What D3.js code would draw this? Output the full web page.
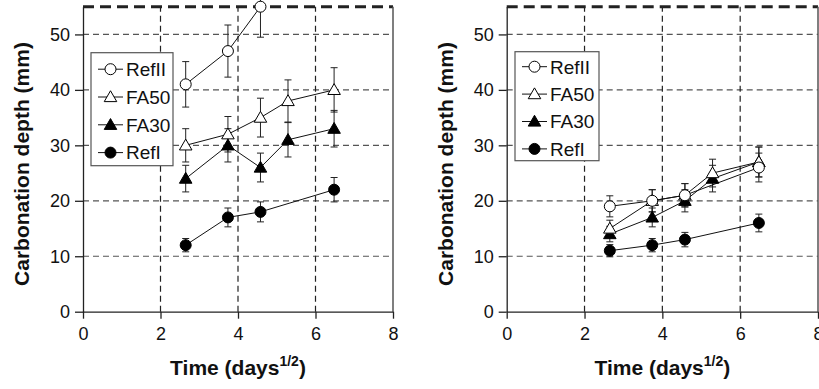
<!DOCTYPE html>
<html>
<head>
<meta charset="utf-8">
<script src="https://cdn.jsdelivr.net/npm/d3@7"></script>
<style>
  body { margin: 0; background: #fff; }
  text { font-family: "Liberation Sans", Arial, sans-serif; fill: #111; }
</style>
</head>
<body>
<script>
var w = 819;
var h = 389;

// time in sqrt(days): 7, 14, 21, 28, 42 days
var times = [2.65, 3.74, 4.58, 5.29, 6.48];
var seriesNames = ["RefII", "FA50", "FA30", "RefI"];
var xTicks = [0, 2, 4, 6, 8];
var yTicks = [0, 10, 20, 30, 40, 50];

// left panel values (null = no measurement)
var leftRefII = [41, 47, 55, null, null];
var leftFA50 = [30, 32, 35, 38, 40];
var leftFA30 = [24, 30, 26, 31, 33];
var leftRefI = [12, 17, 18, null, 22];

// right panel values
var rightRefII = [19, 20, 21, null, 26];
var rightFA50 = [15, 20, 21, 25, 27];
var rightFA30 = [14, 17, 20, 24, 27];
var rightRefI = [11, 12, 13, null, 16];

// error bars are ~10% of the value
var errFrac = 0.1;

var svg = d3.select("body").append("svg")
            .attr("width", w)
            .attr("height", h);

function markerStyle(name) {
    if (name == "RefII") return {shape: "circle", fill: "#fff"};
    if (name == "FA50") return {shape: "triangle", fill: "#fff"};
    if (name == "FA30") return {shape: "triangle", fill: "#000"};
    return {shape: "circle", fill: "#000"};
}

function drawMarker(g, name, cx, cy) {
    var st = markerStyle(name);
    if (st.shape == "circle") {
        g.append("circle")
         .attr("cx", cx).attr("cy", cy).attr("r", 5.5)
         .attr("fill", st.fill).attr("stroke", "#000").attr("stroke-width", 1);
    } else {
        g.append("path")
         .attr("d", d3.symbol().type(d3.symbolTriangle).size(68)())
         .attr("transform", "translate(" + cx + "," + (cy + 1) + ")")
         .attr("fill", st.fill).attr("stroke", "#000").attr("stroke-width", 1);
    }
}

function drawPanel(x0, x1, series, leg) {
    var x = d3.scaleLinear().domain([0, 8]).range([x0, x1]);
    var y = d3.scaleLinear().domain([0, 55]).range([311.7, 6.7]);
    var g = svg.append("g");

    // grid lines
    g.selectAll(".hgrid")
     .data(yTicks.filter(function(d){ return d > 0; }))
     .enter().append("line")
     .attr("x1", x0).attr("x2", x1)
     .attr("y1", function(d){ return y(d); })
     .attr("y2", function(d){ return y(d); })
     .attr("stroke", "#555").attr("stroke-width", 1.2)
     .attr("stroke-dasharray", "6,4");

    g.selectAll(".vgrid")
     .data([2, 4, 6])
     .enter().append("line")
     .attr("x1", function(d){ return x(d); })
     .attr("x2", function(d){ return x(d); })
     .attr("y1", y(0)).attr("y2", y(55))
     .attr("stroke", "#222").attr("stroke-width", 1.2)
     .attr("stroke-dasharray", "6,4");

    // top dashed border and right frame
    g.append("line")
     .attr("x1", x0).attr("x2", x1)
     .attr("y1", y(55)).attr("y2", y(55))
     .attr("stroke", "#222").attr("stroke-width", 3)
     .attr("stroke-dasharray", "11,6");
    g.append("line")
     .attr("x1", x1).attr("x2", x1)
     .attr("y1", y(0)).attr("y2", y(55))
     .attr("stroke", "#555").attr("stroke-width", 1.5);

    // axes
    var xAxis = d3.axisBottom(x).tickValues(xTicks).tickSizeInner(7).tickSizeOuter(0).tickPadding(9);
    var yAxis = d3.axisLeft(y).tickValues(yTicks).tickSizeInner(8).tickSizeOuter(0).tickPadding(5);

    var gx = g.append("g").attr("transform", "translate(0," + y(0) + ")").call(xAxis);
    var gy = g.append("g").attr("transform", "translate(" + x0 + ",0)").call(yAxis);
    [gx, gy].forEach(function(a) {
        a.selectAll("text").attr("font-size", "18px").attr("fill", "#111")
         .attr("font-family", "Liberation Sans, Arial, sans-serif");
        a.selectAll("line, path").attr("stroke", "#222").attr("stroke-width", 1.3);
    });

    // axis titles
    g.append("text")
     .attr("transform", "translate(" + (x0 - 54) + "," + 164 + ") rotate(-90)")
     .attr("text-anchor", "middle")
     .attr("font-size", "21px").attr("font-weight", "bold")
     .text("Carbonation depth (mm)");

    var tt = g.append("text")
     .attr("x", x(4)).attr("y", 375)
     .attr("text-anchor", "middle")
     .attr("font-size", "21px").attr("font-weight", "bold");
    tt.append("tspan").text("Time (days");
    tt.append("tspan").attr("font-size", "14px").attr("dy", -9).text("1/2");
    tt.append("tspan").attr("dy", 9).text(")");

    // series: lines, error bars, markers
    var order = ["RefI", "FA30", "FA50", "RefII"];
    var line = d3.line()
                 .x(function(d){ return x(d.t); })
                 .y(function(d){ return y(d.v); });

    order.forEach(function(name) {
        var pts = [];
        series[name].forEach(function(v, i) {
            if (v != null) pts.push({t: times[i], v: v});
        });
        g.append("path")
         .attr("d", line(pts))
         .attr("fill", "none").attr("stroke", "#111").attr("stroke-width", 1);

        pts.forEach(function(d) {
            var e = d.v * errFrac;
            var cx = x(d.t);
            g.append("line")
             .attr("x1", cx).attr("x2", cx)
             .attr("y1", y(d.v - e)).attr("y2", y(d.v + e))
             .attr("stroke", "#222").attr("stroke-width", 1);
            [d.v - e, d.v + e].forEach(function(c) {
                g.append("line")
                 .attr("x1", cx - 3.5).attr("x2", cx + 3.5)
                 .attr("y1", y(c)).attr("y2", y(c))
                 .attr("stroke", "#222").attr("stroke-width", 1);
            });
        });
    });
    order.forEach(function(name) {
        series[name].forEach(function(v, i) {
            if (v != null) drawMarker(g, name, x(times[i]), y(v));
        });
    });

    // legend
    var lg = g.append("g").attr("transform", "translate(" + leg.x + "," + leg.y + ")");
    lg.append("rect")
      .attr("width", leg.w).attr("height", leg.h)
      .attr("fill", "#fff").attr("stroke", "#555").attr("stroke-width", 1.2);
    seriesNames.forEach(function(name, i) {
        var ly = leg.first + i * leg.step;
        lg.append("line")
          .attr("x1", 7).attr("x2", 32)
          .attr("y1", ly).attr("y2", ly)
          .attr("stroke", "#111").attr("stroke-width", 1);
        drawMarker(lg, name, 19.5, ly);
        lg.append("text")
          .attr("x", 35).attr("y", ly).attr("dy", "0.36em")
          .attr("font-size", "19px")
          .text(name);
    });
}

drawPanel(83, 393,
    {RefII: leftRefII, FA50: leftFA50, FA30: leftFA30, RefI: leftRefI},
    {x: 91, y: 52.7, w: 82, h: 113, first: 16.5, step: 27.8});

drawPanel(506.7, 818,
    {RefII: rightRefII, FA50: rightFA50, FA30: rightFA30, RefI: rightRefI},
    {x: 515, y: 51.7, w: 84, h: 109, first: 15, step: 27.4});
</script>
</body>
</html>
